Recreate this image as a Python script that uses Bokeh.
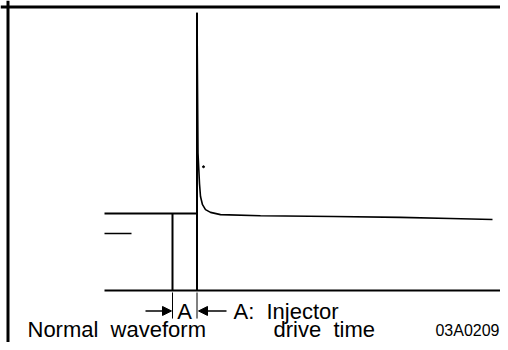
from bokeh.plotting import figure
from bokeh.models import Range1d, Span, Arrow, NormalHead
from bokeh.core.properties import value
from bokeh.embed import file_html
from bokeh.resources import INLINE

# ---- data (time in ms, voltage in V) ----
level_t = [0.0, 3.70]
level_v = [14.0, 14.0]
on_t = [2.72, 2.72]
on_v = [14.0, 0.0]
zero_t = [0.0, 16.3]
zero_v = [0.0, 0.0]
spike_t = [3.70, 3.70]
spike_v = [0.0, 50.5]
decay_t = [3.70, 3.74, 3.80, 3.84, 3.92, 4.04, 4.24, 4.64, 6.24, 9.16, 11.84, 13.84, 15.52]
decay_v = [50.5, 25.0, 19.4, 17.1, 15.6, 14.7, 14.2, 13.8, 13.6, 13.45, 13.3, 13.1, 12.9]
marker_t = [0.0, 1.08]
marker_v = [10.36, 10.36]
speck_t = [3.96]
speck_v = [22.5]
drive_start = 2.72
drive_end = 3.70

labels_main = ["A", "A:\u00a0 Injector", "Normal\u00a0 waveform", "drive\u00a0 time"]
code_label = "03A0209"

T0, T1 = -4.16, 15.84
V0, V1 = -9.4545, 52.727
FONT = value("Liberation Sans")

p = figure(width=500, height=342, x_range=Range1d(T0, T1), y_range=Range1d(V0, V1),
           output_backend="svg", toolbar_location=None, min_border=0,
           x_axis_location=None, y_axis_location=None)
p.grid.visible = False
p.outline_line_color = None
p.background_fill_color = "white"
p.border_fill_color = "white"

# frame (top + left)
p.add_layout(Span(location=51.545, dimension="width", line_color="black", line_width=3))
p.add_layout(Span(location=-3.86, dimension="height", line_color="black", line_width=3))

# waveform
p.line(level_t, level_v, line_color="black", line_width=2)
p.line(on_t, on_v, line_color="black", line_width=2)
p.line(zero_t, zero_v, line_color="black", line_width=2)
p.line(spike_t, spike_v, line_color="black", line_width=2)
p.line(decay_t, decay_v, line_color="black", line_width=1.6)
p.line(marker_t, marker_v, line_color="black", line_width=1.3)
p.scatter(speck_t, speck_v, size=2, color="black")

# drive-time marks
p.segment(x0=[drive_start, drive_end], y0=[-0.36, -0.36], x1=[drive_start, drive_end], y1=[-5.1, -5.1],
          line_color="black", line_width=1)
p.add_layout(Arrow(end=NormalHead(size=9, fill_color="black", line_color="black"),
                   x_start=1.64, y_start=-3.72, x_end=drive_start - 0.04, y_end=-3.72,
                   line_color="black", line_width=1.5))
p.add_layout(Arrow(end=NormalHead(size=9, fill_color="black", line_color="black"),
                   x_start=4.88, y_start=-3.72, x_end=drive_end + 0.06, y_end=-3.72,
                   line_color="black", line_width=1.5))

# texts
lx = [3.20, 5.16, -3.08, 6.76]
ly = [-3.82, -3.82, -7.09, -7.09]
la = ["center", "left", "left", "left"]
p.text(x=lx, y=ly, text=labels_main, text_align=la, text_baseline="alphabetic",
       text_font=FONT, text_font_size="22px", text_color="black")
p.text(x=[15.80], y=[-7.27], text=[code_label], text_align="right", text_baseline="alphabetic",
       text_font=FONT, text_font_size="16px", text_color="black")

open("out.html", "w").write(file_html(p, INLINE))
